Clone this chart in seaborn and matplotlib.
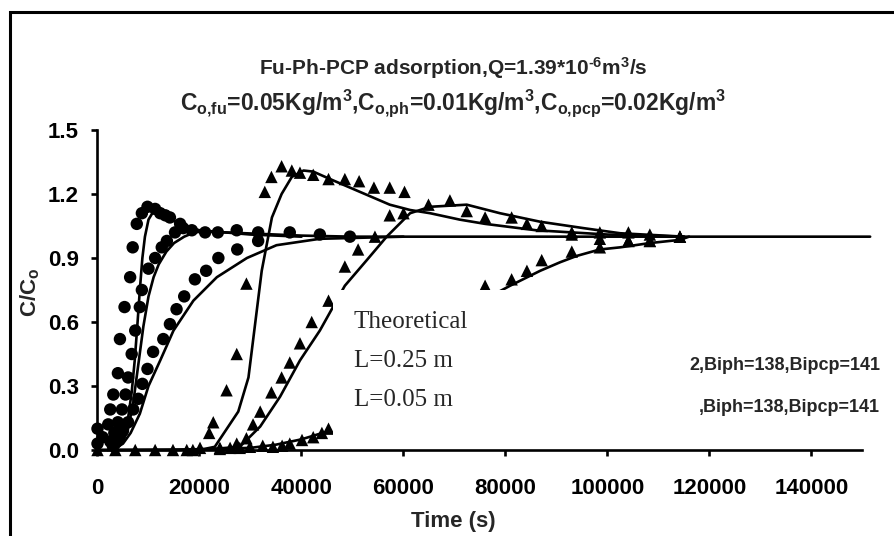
import matplotlib
matplotlib.use("Agg")
import matplotlib.pyplot as plt
import seaborn as sns
import pandas as pd
from matplotlib.patches import Rectangle


# -----------------------------
# Data
# -----------------------------
# experimental points, circles
fu_a_x = [0, 0, 1000, 2100, 2500, 3100, 4000, 4400, 5300, 6400, 6900, 7700, 8700, 9800,
          11300, 12300, 13300, 14200, 16200, 18500, 21100, 23600, 27300, 31500, 37700, 43600, 49500]
fu_a_y = [0.10, 0.03, 0.06, 0.12, 0.19, 0.26, 0.36, 0.52, 0.67, 0.81, 0.95, 1.06, 1.11, 1.14,
          1.13, 1.11, 1.10, 1.09, 1.06, 1.03, 1.02, 1.02, 1.03, 1.02, 1.02, 1.01, 1.00]
fu_b_x = [2500, 3300, 4000, 4800, 5500, 6000, 6700, 7400, 8300, 8700, 10000, 11300, 12600,
          13600, 15200, 16800]
fu_b_y = [0.04, 0.08, 0.13, 0.19, 0.26, 0.34, 0.45, 0.56, 0.67, 0.75, 0.85, 0.90, 0.95,
          0.98, 1.02, 1.04]
fu_c_x = [3000, 4000, 5000, 6000, 7000, 8000, 8800, 9800, 10900, 12900, 14200, 15500, 17000,
          19100, 21300, 23700, 27400, 31500]
fu_c_y = [0.02, 0.05, 0.09, 0.13, 0.19, 0.24, 0.31, 0.38, 0.46, 0.52, 0.59, 0.66, 0.72,
          0.80, 0.84, 0.90, 0.94, 0.98]

# experimental points, triangles
ph_a_x = [0, 3500, 7400, 11300, 14800, 17500, 21900, 22700, 25300, 27300, 29200, 32800, 34100,
          36100, 38100, 39700, 42300, 45300, 48500, 51300, 54200, 57300, 60200, 72400, 76000,
          81200, 87100, 93000, 98500, 104100, 108300, 114200]
ph_a_y = [0.0, 0.0, 0.0, 0.0, 0.0, 0.0, 0.08, 0.13, 0.28, 0.45, 0.78, 1.21, 1.28,
          1.33, 1.31, 1.30, 1.29, 1.27, 1.27, 1.26, 1.23, 1.23, 1.21, 1.12, 1.09,
          1.09, 1.05, 1.02, 1.02, 1.02, 1.01, 1.00]
ph_b_x = [24000, 27300, 29200, 30500, 31900, 34100, 36100, 37700, 39700, 42000, 45300, 48500,
          51100, 54400, 57300, 60000, 64900, 69100, 84200, 93000, 98500, 104100, 108300, 114200]
ph_b_y = [0.01, 0.03, 0.055, 0.12, 0.18, 0.27, 0.34, 0.41, 0.50, 0.60, 0.70, 0.86,
          0.94, 1.00, 1.10, 1.11, 1.15, 1.17, 1.06, 1.01, 0.99, 0.98, 0.98, 1.00]
pcp_x = [76000, 81200, 84200, 87100, 93000, 98500, 104100, 108300, 114200]
pcp_y = [0.77, 0.80, 0.84, 0.89, 0.93, 0.95, 0.98, 0.98, 1.00]
low_x = [18700, 20100, 24000, 26000, 27900, 29900, 32400, 34400, 36200, 37700, 40100, 42300,
         44000, 45300]
low_y = [0.0, 0.01, 0.005, 0.01, 0.01, 0.015, 0.02, 0.015, 0.02, 0.03, 0.047, 0.06,
         0.08, 0.10]

# theoretical curves
th_a_x = [2000, 4000, 5000, 6000, 6700, 7300, 7800, 8300, 8800, 9300, 10000, 11000, 12500,
          14500, 17000, 20000, 25000, 30000, 40000, 50000, 151500]
th_a_y = [0.0, 0.02, 0.06, 0.15, 0.27, 0.42, 0.58, 0.75, 0.90, 1.00, 1.08, 1.12, 1.11,
          1.08, 1.05, 1.03, 1.02, 1.015, 1.005, 1.0, 1.0]
th_b_x = [2000, 4000, 5000, 6000, 7000, 8000, 9000, 10000, 11000, 12000, 13500, 15000, 17000,
          19000, 21000, 25000, 30000, 40000]
th_b_y = [0.0, 0.01, 0.04, 0.10, 0.22, 0.40, 0.58, 0.72, 0.81, 0.87, 0.93, 0.97, 1.00,
          1.02, 1.025, 1.02, 1.01, 1.0]
th_c_x = [3000, 5000, 6500, 8300, 10000, 12300, 14900, 18800, 23400, 29300, 35100, 43600, 60000]
th_c_y = [0.0, 0.03, 0.08, 0.17, 0.30, 0.42, 0.56, 0.70, 0.81, 0.90, 0.96, 0.99, 1.0]
th_d_x = [0, 15000, 21000, 23000, 27600, 29600, 30900, 32200, 34200, 36100, 38100, 40400, 42300,
          45600, 49500, 53400, 57300, 61300, 65200, 71000, 76000, 86000, 100000, 115000]
th_d_y = [0.0, 0.0, 0.005, 0.015, 0.18, 0.34, 0.59, 0.84, 1.09, 1.20, 1.28, 1.31, 1.305,
          1.27, 1.23, 1.19, 1.15, 1.125, 1.11, 1.08, 1.06, 1.03, 1.01, 1.0]
th_e_x = [20000, 27900, 31900, 35800, 39700, 43600, 48500, 52800, 56700, 61300, 65200, 72400,
          78900, 86800, 95300, 102500, 115000]
th_e_y = [0.0, 0.015, 0.11, 0.25, 0.42, 0.56, 0.77, 0.89, 1.00, 1.11, 1.14, 1.15,
          1.11, 1.07, 1.04, 1.016, 1.0]
th_f_x = [77000, 80900, 86800, 90700, 94000, 98500, 102500, 108300, 114200, 116000]
th_f_y = [0.72, 0.77, 0.84, 0.88, 0.91, 0.94, 0.95, 0.97, 0.985, 1.0]
th_g_x = [0, 20000, 30000, 35000, 40000, 45500]
th_g_y = [0.0, 0.003, 0.01, 0.025, 0.05, 0.09]

xticks = [0, 20000, 40000, 60000, 80000, 100000, 120000, 140000]
yticks = [0.0, 0.3, 0.6, 0.9, 1.2, 1.5]


# -----------------------------
# Long tables for seaborn
# -----------------------------
def table(groups):
    parts = []
    for name, shape, xs, ys in groups:
        parts.append(pd.DataFrame({"time": xs, "c": ys, "series": name, "shape": shape}))
    return pd.concat(parts, ignore_index=True)


points = table([
    ("fu_a", "circle", fu_a_x, fu_a_y),
    ("fu_b", "circle", fu_b_x, fu_b_y),
    ("fu_c", "circle", fu_c_x, fu_c_y),
    ("ph_a", "triangle", ph_a_x, ph_a_y),
    ("ph_b", "triangle", ph_b_x, ph_b_y),
    ("pcp", "triangle", pcp_x, pcp_y),
    ("low", "triangle", low_x, low_y),
])
curves = table([
    ("a", "line", th_a_x, th_a_y),
    ("b", "line", th_b_x, th_b_y),
    ("c", "line", th_c_x, th_c_y),
    ("d", "line", th_d_x, th_d_y),
    ("e", "line", th_e_x, th_e_y),
    ("f", "line", th_f_x, th_f_y),
    ("g", "line", th_g_x, th_g_y),
])


# -----------------------------
# Style
# -----------------------------
sns.set_theme(style="white")
plt.rcParams["font.family"] = ["Liberation Sans", "DejaVu Sans"]
plt.rcParams["font.weight"] = "bold"
plt.rcParams["mathtext.fontset"] = "custom"
plt.rcParams["mathtext.rm"] = "Liberation Sans:bold"
plt.rcParams["mathtext.it"] = "Liberation Sans:bold"
plt.rcParams["mathtext.bf"] = "Liberation Sans:bold"

W, H = 895, 536


def fx(px):
    return px / W


def fy(py):
    return 1 - py / H


fig = plt.figure(figsize=(W / 100, H / 100), dpi=100)
ax = fig.add_axes([fx(97.5), fy(450), fx(862.5) - fx(97.5), fy(130) - fy(450)])

sns.lineplot(data=curves, x="time", y="c", units="series", estimator=None, sort=False,
             color="black", linewidth=1.9, legend=False, ax=ax, clip_on=False)
sns.scatterplot(data=points, x="time", y="c", style="shape",
                markers={"circle": "o", "triangle": "^"}, color="black", s=80,
                linewidth=0, legend=False, ax=ax, clip_on=False, zorder=3)

ax.set_xlim(0, 150000)
ax.set_ylim(0, 1.5)
ax.set_xticks(xticks)
ax.set_yticks(yticks)
ax.set_xticklabels([str(t) for t in xticks])
ax.set_yticklabels([f"{t:.1f}" for t in yticks])
ax.set_xlabel("")
ax.set_ylabel("")
for side in ["top", "right"]:
    ax.spines[side].set_visible(False)
for side in ["left", "bottom"]:
    ax.spines[side].set_color("black")
    ax.spines[side].set_linewidth(1.9)
ax.tick_params(axis="both", direction="out", length=4.5, width=1.9, color="black",
               labelsize=16, labelcolor="black")
ax.tick_params(axis="x", pad=16, bottom=True)
ax.tick_params(axis="y", pad=9, left=True)
for lab in ax.get_xticklabels() + ax.get_yticklabels():
    lab.set_fontweight("bold")

# titles and axis labels
fig.text(fx(453), fy(68), r"Fu-Ph-PCP adsorption,Q=1.39*10$^{\text{-6}}$m$^{3}$/s",
         ha="center", va="center", fontsize=15, fontweight="bold")
fig.text(fx(453), fy(103),
         r"C$_{\text{o,fu}}$=0.05Kg/m$^{3}$,C$_{\text{o,ph}}$=0.01Kg/m$^{3}$,"
         r"C$_{\text{o,pcp}}$=0.02Kg/m$^{3}$",
         ha="center", va="center", fontsize=16.5, fontweight="bold")
fig.text(fx(453), fy(521), "Time (s)", ha="center", va="center", fontsize=16,
         fontweight="bold")
fig.text(fx(30), fy(292), r"C/C$_{o}$", ha="center", va="center", rotation=90,
         fontsize=16, fontweight="bold")

# legend area (white box hiding part of the data)
fig.add_artist(Rectangle((fx(333), fy(440)), fx(628) - fx(333), fy(290) - fy(440),
                         transform=fig.transFigure, facecolor="white", edgecolor="none",
                         zorder=5))
for txt, py in [("Theoretical", 322), ("L=0.25 m", 361), ("L=0.05 m", 400)]:
    fig.text(fx(354), fy(py), txt, ha="left", va="center", fontsize=18,
             family="Liberation Serif", fontweight="normal", zorder=6)
fig.text(fx(880), fy(366), "2,Biph=138,Bipcp=141", ha="right", va="center",
         fontsize=13, fontweight="bold", zorder=6)
fig.text(fx(880), fy(408), ",Biph=138,Bipcp=141", ha="right", va="center",
         fontsize=13, fontweight="bold", zorder=6)

# outer frame, only left and top edges inside the picture
fig.add_artist(Rectangle((fx(10), -0.2), 1.3, fy(12) + 0.2, transform=fig.transFigure,
                         fill=False, edgecolor="black", linewidth=2.2, zorder=7))

fig.savefig("out.png", dpi=100)
